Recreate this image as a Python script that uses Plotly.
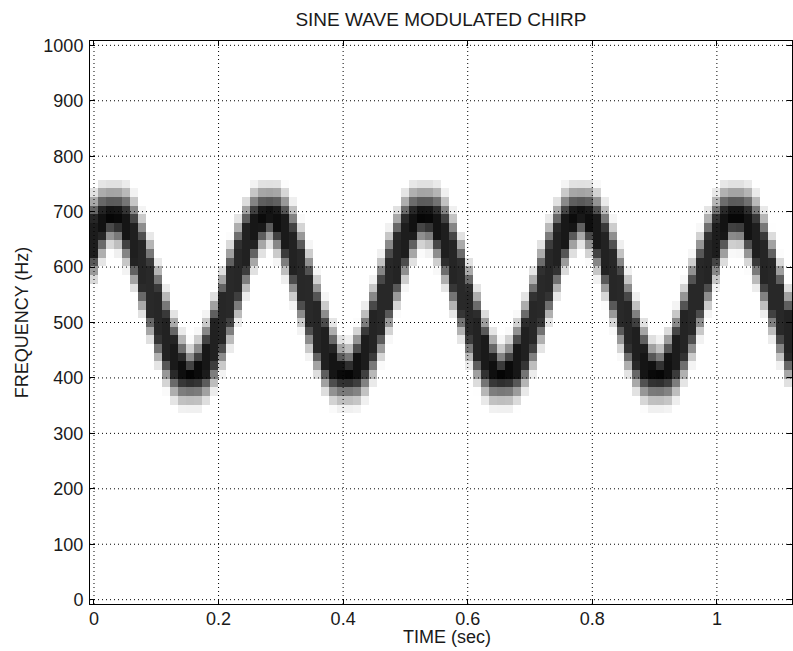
import numpy as np
import plotly.graph_objects as go

# ---- data ----
# spectrogram frames: first frame centre and frame step (s)
FRAME_T0 = 0.0
FRAME_STEP = 0.0128
# frequency bins: bin spacing (Hz) and number of bins (0 .. 1000 Hz)
BIN_HZ = 15.625
N_BINS = 65

# lower / upper edge (Hz) of the dark ridge in each time frame
RIDGE_LO = [624, 661, 687, 681, 651, 610, 564, 516, 472, 435, 410, 400, 400, 400, 407, 429,
            463, 506, 553, 601, 643, 675, 691, 668, 633, 589, 541, 494, 453, 422, 404, 400,
            400, 401, 415, 443, 482, 528, 576, 621, 659, 686, 682, 653, 613, 567, 519, 474,
            437, 412, 400, 400, 400, 406, 427, 460, 503, 550, 598, 640, 674, 692, 670, 635,
            592, 544, 497, 456, 424, 405, 400, 400, 401, 414, 441, 479, 525, 573, 619, 657,
            685, 684, 655, 616, 570, 522, 477, 439]
RIDGE_HI = [685, 699, 700, 700, 696, 678, 646, 605, 558, 510, 466, 431, 408, 425, 458, 500,
            547, 595, 638, 672, 693, 700, 700, 700, 689, 664, 628, 583, 535, 489, 449, 419,
            413, 439, 477, 522, 570, 616, 655, 684, 698, 700, 700, 697, 679, 648, 608, 561,
            513, 469, 433, 410, 424, 456, 497, 544, 592, 635, 670, 692, 700, 700, 700, 690,
            666, 630, 586, 538, 492, 451, 420, 412, 437, 474, 519, 567, 613, 653, 682, 698,
            700, 700, 697, 681, 651, 610, 564, 516]

# grey level of a cell vs. its distance (in bins) outside the ridge
FALLOFF_BINS = [0, 1, 2, 3, 4]
FALLOFF_LEVEL = [1.0, 0.72, 0.42, 0.15, 0.0]

X_TICKS = [0, 0.2, 0.4, 0.6, 0.8, 1.0]
X_TICKTEXT = ["0", "0.2", "0.4", "0.6", "0.8", "1"]
Y_TICKS = [0, 100, 200, 300, 400, 500, 600, 700, 800, 900, 1000]
Y_TICKTEXT = [str(v) for v in Y_TICKS]

TITLE = "SINE WAVE MODULATED CHIRP"
XLABEL = "TIME (sec)"
YLABEL = "FREQUENCY (Hz)"

# ---- build the image table ----
n_frames = len(RIDGE_LO)
times = FRAME_T0 + FRAME_STEP * np.arange(n_frames)
freqs = BIN_HZ * np.arange(N_BINS)
lo = np.array(RIDGE_LO, float)
hi = np.array(RIDGE_HI, float)
dist = np.maximum(0, np.maximum(lo[None, :] - freqs[:, None], freqs[:, None] - hi[None, :])) / BIN_HZ
core = 1.0 - 0.0018 * (hi - lo)
z = core[None, :] * np.interp(dist, FALLOFF_BINS, FALLOFF_LEVEL)

FONT = "Liberation Sans, Arial, Helvetica, sans-serif"
TXT = "#1a1a1a"

fig = go.Figure(go.Heatmap(
    x=times, y=freqs, z=z, zmin=0, zmax=1, zsmooth=False, showscale=False,
    colorscale=[[0, "#ffffff"], [1, "#000000"]], hoverinfo="skip"))

x0 = FRAME_T0 - FRAME_STEP / 2
x1 = 1.1206
y0 = -BIN_HZ / 2
y1 = 1000 + BIN_HZ / 2

shapes = []
for v in X_TICKS:
    shapes.append(dict(type="line", xref="x", yref="y", x0=v, x1=v, y0=y0, y1=y1, layer="above",
                       line=dict(color="#000000", width=1, dash="1px,3px")))
for v in Y_TICKS:
    shapes.append(dict(type="line", xref="x", yref="y", x0=x0, x1=x1, y0=v, y1=v, layer="above",
                       line=dict(color="#000000", width=1, dash="1px,3px")))

axis_common = dict(showgrid=False, zeroline=False, showline=True, linecolor="#000000", linewidth=1,
                   mirror="ticks", ticks="inside", ticklen=5, tickcolor="#000000", tickwidth=1,
                   tickfont=dict(family=FONT, size=18, color=TXT))

fig.update_layout(
    width=793, height=651,
    margin=dict(l=90, r=1, t=41, b=47),
    paper_bgcolor="white", plot_bgcolor="white",
    title=dict(text=TITLE, x=0.556, xanchor="center", y=1 - 19 / 651, yanchor="middle",
               yref="container", font=dict(family=FONT, size=19, color=TXT)),
    xaxis=dict(range=[x0, x1], tickvals=X_TICKS, ticktext=X_TICKTEXT, ticklabelstandoff=-2,
               **axis_common),
    yaxis=dict(range=[y0, y1], tickvals=Y_TICKS, ticktext=Y_TICKTEXT, ticklabelstandoff=2,
               title=dict(text=YLABEL, standoff=10, font=dict(family=FONT, size=18, color=TXT)),
               **axis_common),
    shapes=shapes,
    annotations=[dict(text=XLABEL, xref="paper", yref="paper", x=0.508, y=0, xanchor="center",
                      yanchor="middle", yshift=-33, showarrow=False,
                      font=dict(family=FONT, size=18, color=TXT))],
)

fig.write_html("out.html", config={"displayModeBar": False},
               post_script="document.body.style.margin='0';document.body.style.padding='0';")
